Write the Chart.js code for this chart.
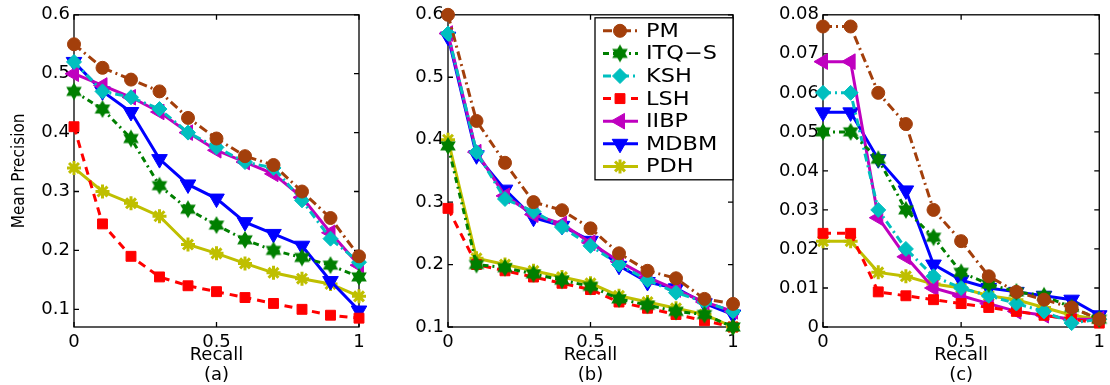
<!DOCTYPE html>
<html>
<head>
<meta charset="utf-8">
<script src="https://cdn.jsdelivr.net/npm/chart.js@4.4.1/dist/chart.umd.min.js"></script>
<style>
  body { margin: 0; background: #fff; width: 1110px; height: 385px; overflow: hidden; position: relative; }
  canvas { position: absolute; top: 0; }
</style>
</head>
<body>
<canvas id="panelA" width="370" height="385" style="left:0"></canvas>
<canvas id="panelB" width="375" height="385" style="left:370px"></canvas>
<canvas id="panelC" width="370" height="385" style="left:740px"></canvas>
<script>
// ---- data ----
const recall = [0, 0.1, 0.2, 0.3, 0.4, 0.5, 0.6, 0.7, 0.8, 0.9, 1];
const methods = ['PM', 'ITQ\u2212S', 'KSH', 'LSH', 'IIBP', 'MDBM', 'PDH'];

// (a)
const pmA   = [0.55, 0.51, 0.49, 0.47, 0.425, 0.39, 0.36, 0.345, 0.30, 0.255, 0.19];
const itqA  = [0.47, 0.44, 0.39, 0.31, 0.27, 0.243, 0.218, 0.20, 0.188, 0.175, 0.155];
const kshA  = [0.52, 0.47, 0.46, 0.44, 0.40, 0.375, 0.35, 0.34, 0.285, 0.22, 0.18];
const lshA  = [0.41, 0.245, 0.19, 0.155, 0.14, 0.13, 0.12, 0.11, 0.10, 0.09, 0.085];
const iibpA = [0.50, 0.48, 0.46, 0.435, 0.40, 0.37, 0.35, 0.33, 0.29, 0.23, 0.175];
const mdbmA = [0.52, 0.47, 0.435, 0.355, 0.312, 0.288, 0.248, 0.228, 0.208, 0.148, 0.098];
const pdhA  = [0.34, 0.30, 0.28, 0.258, 0.21, 0.195, 0.178, 0.162, 0.152, 0.143, 0.122];

// (b)
const pmB   = [0.60, 0.43, 0.363, 0.30, 0.287, 0.258, 0.218, 0.19, 0.178, 0.145, 0.137];
const itqB  = [0.39, 0.20, 0.195, 0.185, 0.175, 0.165, 0.145, 0.135, 0.125, 0.12, 0.10];
const kshB  = [0.57, 0.38, 0.305, 0.285, 0.26, 0.23, 0.20, 0.175, 0.155, 0.14, 0.125];
const lshB  = [0.29, 0.20, 0.19, 0.18, 0.17, 0.16, 0.14, 0.13, 0.12, 0.11, 0.10];
const iibpB = [0.57, 0.38, 0.31, 0.28, 0.265, 0.235, 0.205, 0.18, 0.16, 0.14, 0.125];
const mdbmB = [0.565, 0.375, 0.32, 0.275, 0.262, 0.238, 0.198, 0.172, 0.162, 0.138, 0.12];
const pdhB  = [0.40, 0.21, 0.20, 0.19, 0.18, 0.17, 0.15, 0.14, 0.13, 0.12, 0.10];

// (c)
const pmC   = [0.077, 0.077, 0.060, 0.052, 0.030, 0.022, 0.013, 0.009, 0.007, 0.005, 0.002];
const itqC  = [0.050, 0.050, 0.043, 0.030, 0.023, 0.014, 0.011, 0.009, 0.008, 0.005, 0.002];
const kshC  = [0.060, 0.060, 0.030, 0.020, 0.013, 0.010, 0.008, 0.006, 0.004, 0.001, 0.002];
const lshC  = [0.024, 0.024, 0.009, 0.008, 0.007, 0.006, 0.005, 0.004, 0.003, 0.002, 0.001];
const iibpC = [0.068, 0.068, 0.028, 0.018, 0.010, 0.008, 0.006, 0.004, 0.003, 0.002, 0.002];
const mdbmC = [0.055, 0.055, 0.043, 0.035, 0.016, 0.012, 0.010, 0.009, 0.008, 0.007, 0.003];
const pdhC  = [0.022, 0.022, 0.014, 0.013, 0.011, 0.010, 0.008, 0.007, 0.005, 0.003, 0.002];

const xTicks = [0, 0.5, 1];
const yTicksAB = [0.1, 0.2, 0.3, 0.4, 0.5, 0.6];
const yTicksC = [0, 0.01, 0.02, 0.03, 0.04, 0.05, 0.06, 0.07, 0.08];

// ---- styles ----
const FONT = 'DejaVu Sans';
const colors = ['#a33f0b', '#007f00', '#00bfbf', '#ff0000', '#bf00bf', '#0000ff', '#bfbf00'];
const dashes = [[9, 4, 2, 4], [6, 4, 2, 4], [8, 4, 2, 4], [8, 6], [], [], []];

function hexagram(color, r) {
  const c = document.createElement('canvas');
  const s = Math.ceil(2 * r + 2);
  c.width = c.height = s;
  const g = c.getContext('2d');
  g.fillStyle = color;
  for (let k = 0; k < 2; k++) {
    g.beginPath();
    for (let i = 0; i < 3; i++) {
      const a = -Math.PI / 2 + k * Math.PI + i * 2 * Math.PI / 3;
      const px = s / 2 + r * Math.cos(a), py = s / 2 + r * Math.sin(a);
      i === 0 ? g.moveTo(px, py) : g.lineTo(px, py);
    }
    g.closePath();
    g.fill();
  }
  return c;
}

const markers = [
  { pointStyle: 'circle', radius: 6.5, rotation: 0, bw: 1 },
  { pointStyle: hexagram(colors[1], 9), radius: 9, rotation: 0, bw: 1 },
  { pointStyle: 'rectRot', radius: 7.5, rotation: 0, bw: 1 },
  { pointStyle: 'rect', radius: 7, rotation: 0, bw: 1 },
  { pointStyle: 'triangle', radius: 9, rotation: 270, bw: 1 },
  { pointStyle: 'triangle', radius: 9, rotation: 180, bw: 1 },
  { pointStyle: 'star', radius: 7, rotation: 0, bw: 3 }
];

function datasets(series) {
  return series.map((vals, i) => ({
    label: methods[i],
    data: vals.map((v, j) => ({ x: recall[j], y: v })),
    borderColor: colors[i],
    backgroundColor: colors[i],
    borderWidth: 3,
    borderDash: dashes[i],
    pointStyle: markers[i].pointStyle,
    pointRadius: markers[i].radius,
    pointRotation: markers[i].rotation,
    pointBorderWidth: markers[i].bw,
    pointBackgroundColor: colors[i],
    pointBorderColor: colors[i],
    clip: false,
    tension: 0
  }));
}

// box with inward ticks, like a matlab axes
const boxPlugin = {
  id: 'box',
  beforeDatasetsDraw(chart) {
    const { ctx, chartArea: a, scales: { x, y } } = chart;
    ctx.save();
    ctx.strokeStyle = '#000';
    ctx.lineWidth = 1.3;
    ctx.strokeRect(a.left, a.top, a.right - a.left, a.bottom - a.top);
    ctx.beginPath();
    x.ticks.forEach(t => {
      const px = x.getPixelForValue(t.value);
      ctx.moveTo(px, a.bottom); ctx.lineTo(px, a.bottom - 5);
      ctx.moveTo(px, a.top); ctx.lineTo(px, a.top + 5);
    });
    y.ticks.forEach(t => {
      const py = y.getPixelForValue(t.value);
      ctx.moveTo(a.left, py); ctx.lineTo(a.left + 5, py);
      ctx.moveTo(a.right, py); ctx.lineTo(a.right - 5, py);
    });
    ctx.stroke();
    ctx.restore();
  }
};

const legendPlugin = {
  id: 'boxLegend',
  afterDraw(chart) {
    const { ctx, chartArea: a } = chart;
    const right = a.right, left = right - 138, top = a.top + 3, h = 162;
    ctx.save();
    ctx.fillStyle = '#fff';
    ctx.fillRect(left, top, right - left, h);
    ctx.strokeStyle = '#000';
    ctx.lineWidth = 1.3;
    ctx.strokeRect(left, top, right - left, h);
    chart.data.datasets.forEach((ds, i) => {
      const y = top + 13 + i * 22.6;
      ctx.setLineDash(ds.borderDash);
      ctx.strokeStyle = ds.borderColor;
      ctx.lineWidth = ds.borderWidth;
      ctx.beginPath();
      ctx.moveTo(left + 8, y);
      ctx.lineTo(left + 43, y);
      ctx.stroke();
      ctx.setLineDash([]);
      ctx.fillStyle = ds.pointBackgroundColor;
      ctx.strokeStyle = ds.pointBorderColor;
      ctx.lineWidth = ds.pointBorderWidth;
      Chart.helpers.drawPoint(ctx, {
        pointStyle: ds.pointStyle, rotation: ds.pointRotation,
        radius: ds.pointRadius, borderWidth: ds.pointBorderWidth
      }, left + 25, y);
      ctx.fillStyle = '#000';
      ctx.font = '19px "' + FONT + '"';
      ctx.textBaseline = 'middle';
      ctx.translate(left + 51, y + 1);
      ctx.scale(1.18, 1);
      ctx.fillText(ds.label, 0, 0);
      ctx.setTransform(1, 0, 0, 1, 0, 0);
    });
    ctx.restore();
  }
};

function makePanel(id, series, yMin, yMax, yTicks, yFmt, yWidth, padRight, letter, yTitle, plugins) {
  new Chart(document.getElementById(id), {
    type: 'line',
    data: { datasets: datasets(series) },
    plugins: [boxPlugin].concat(plugins),
    options: {
      responsive: false,
      animation: false,
      layout: { padding: { top: 13, right: padRight, left: 0, bottom: 0 }, autoPadding: false },
      plugins: { legend: { display: false }, tooltip: { enabled: false } },
      scales: {
        x: {
          type: 'linear', min: 0, max: 1,
          grid: { display: false, drawTicks: false }, border: { display: false },
          afterBuildTicks: s => { s.ticks = xTicks.map(v => ({ value: v })); },
          afterFit: s => { s.height = 58; },
          ticks: { color: '#000', padding: 5, maxRotation: 0, font: { family: FONT, size: 18 },
                   callback: v => String(v) },
          title: { display: true, text: ['Recall', '(' + letter + ')'], color: '#000',
                   font: { family: FONT, size: 18, lineHeight: 1.1 }, padding: { top: 0, bottom: 0 } }
        },
        y: {
          min: yMin, max: yMax,
          grid: { display: false, drawTicks: false }, border: { display: false },
          afterBuildTicks: s => { s.ticks = yTicks.map(v => ({ value: v })); },
          afterFit: s => { s.width = yWidth; },
          ticks: { color: '#000', padding: 4, font: { family: FONT, size: 18 }, callback: yFmt },
          title: { display: !!yTitle, text: yTitle || '', color: '#000',
                   font: { family: '"DejaVu Sans Condensed", "Liberation Sans", sans-serif', size: 17 },
                   padding: { top: 9, bottom: 0 } }
        }
      }
    }
  });
}

const fmt1 = v => v.toFixed(1);
const fmt2 = v => (v === 0 ? '0' : v.toFixed(2));

makePanel('panelA', [pmA, itqA, kshA, lshA, iibpA, mdbmA, pdhA], 0.07, 0.6, yTicksAB, fmt1, 74, 11, 'a', 'Mean Precision', []);
makePanel('panelB', [pmB, itqB, kshB, lshB, iibpB, mdbmB, pdhB], 0.1, 0.6, yTicksAB, fmt1, 78, 12, 'b', null, [legendPlugin]);
makePanel('panelC', [pmC, itqC, kshC, lshC, iibpC, mdbmC, pdhC], 0, 0.08, yTicksC, fmt2, 83, 2, 'c', null, []);
</script>
</body>
</html>
